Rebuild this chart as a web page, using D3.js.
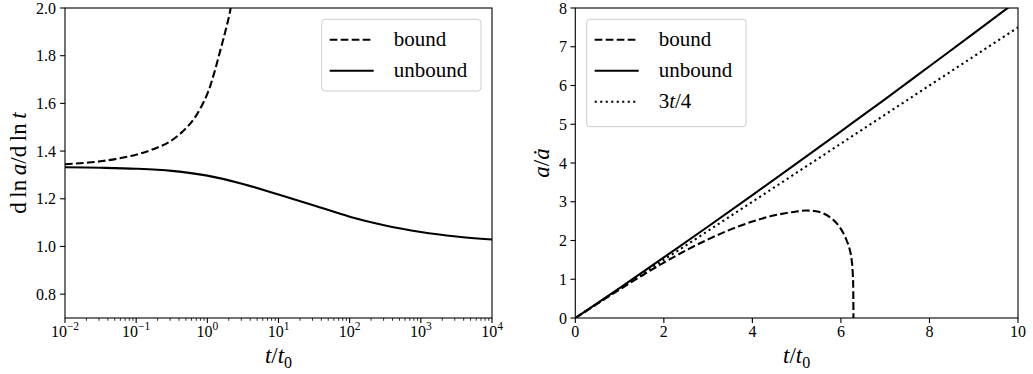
<!DOCTYPE html>
<html>
<head>
<meta charset="utf-8">
<script src="https://cdn.jsdelivr.net/npm/d3@7/dist/d3.min.js"></script>
<style>
  html, body { margin: 0; padding: 0; background: #fff; }
  svg { display: block; }
</style>
</head>
<body>
<svg id="chart" width="1033" height="374" font-family="Liberation Serif"></svg>
<script>
// ---- left panel: logarithmic derivative of the scale factor ----
const logTimes = [0.01, 0.0316, 0.1, 0.316, 1, 3.16, 10, 31.6, 100, 316, 1000, 3162, 10000];
const unboundSlope = [1.332, 1.330, 1.326, 1.317, 1.297, 1.262, 1.218, 1.172, 1.125, 1.088, 1.061, 1.042, 1.029];

const boundTimesLog = [0.01, 0.0316, 0.1, 0.2, 0.316, 0.5, 0.7, 1.0, 1.25, 1.5, 1.75, 2.0, 2.13];
const boundSlope = [1.345, 1.357, 1.385, 1.415, 1.445, 1.495, 1.55, 1.64, 1.728, 1.815, 1.89, 1.96, 2.0];

const leftYTicks = [0.8, 1.0, 1.2, 1.4, 1.6, 1.8, 2.0];
const leftXExponents = [-2, -1, 0, 1, 2, 3, 4];

// ---- right panel: Hubble time a / a-dot ----
const linTimes = [0, 0.5, 1, 2, 3, 4, 5, 6, 7, 8, 9, 10];
const unboundHubble = [0, 0.383, 0.772, 1.562, 2.361, 3.172, 3.99, 4.818, 5.649, 6.496, 7.344, 8.20];
const refLine = [0, 0.375, 0.75, 1.5, 2.25, 3.0, 3.75, 4.5, 5.25, 6.0, 6.75, 7.5];

const boundTimesLin = [0, 0.5, 1, 1.5, 2, 2.5, 3, 3.5, 4, 4.5, 5, 5.2, 5.4, 5.6, 5.8, 5.95, 6.05, 6.13, 6.2, 6.24, 6.265, 6.278, 6.283];
const boundHubble = [0, 0.37, 0.735, 1.09, 1.43, 1.745, 2.03, 2.28, 2.49, 2.65, 2.75, 2.775, 2.76, 2.70, 2.56, 2.38, 2.2, 2.0, 1.76, 1.52, 1.2, 0.8, 0];

const rightYTicks = [0, 1, 2, 3, 4, 5, 6, 7, 8];
const rightXTicks = [0, 2, 4, 6, 8, 10];

const FONT = "Liberation Serif";
const svg = d3.select("#chart");
const yTop = 8, yBot = 318;
const LW = 2.1;
const DASH = "7.7,3.3";
const DOT = "2.1,3.4";

const zip = (xs, ys) => xs.map((x, i) => [x, ys[i]]);
const txt = (g) => g.append("text").attr("font-family", FONT).attr("fill", "#000");

function frame(g, x0, x1) {
  g.append("rect")
    .attr("x", x0).attr("y", yTop)
    .attr("width", x1 - x0).attr("height", yBot - yTop)
    .attr("fill", "none").attr("stroke", "#000").attr("stroke-width", 1.1);
}

function legend(g, x, y, w, h, rows) {
  g.append("rect")
    .attr("x", x).attr("y", y).attr("width", w).attr("height", h)
    .attr("rx", 3.5).attr("fill", "#fff").attr("fill-opacity", 0.8)
    .attr("stroke", "#cccccc").attr("stroke-width", 1);
  rows.forEach((r, i) => {
    const ry = y + 20.5 + i * 31;
    g.append("line")
      .attr("x1", x + 8).attr("x2", x + 52)
      .attr("y1", ry).attr("y2", ry)
      .attr("stroke", "#000").attr("stroke-width", LW)
      .attr("stroke-dasharray", r.dash);
    const t = txt(g).attr("x", x + 72).attr("y", ry + 6.5).attr("font-size", 21);
    r.label(t);
  });
}

// ================= left panel =================
const L = svg.append("g");
const xL = d3.scaleLog().domain([1e-2, 1e4]).range([65, 492]);
const yL = d3.scaleLinear().domain([0.7, 2.0]).range([yBot, yTop]);

const clipL = svg.append("clipPath").attr("id", "clipL");
clipL.append("rect").attr("x", 65).attr("y", yTop).attr("width", 427).attr("height", yBot - yTop);

const lineL = d3.line().x(d => xL(d[0])).y(d => yL(d[1])).curve(d3.curveCatmullRom.alpha(0.5));
const curvesL = L.append("g").attr("clip-path", "url(#clipL)");
curvesL.append("path").attr("d", lineL(zip(boundTimesLog, boundSlope)))
  .attr("fill", "none").attr("stroke", "#000").attr("stroke-width", LW).attr("stroke-dasharray", DASH);
curvesL.append("path").attr("d", lineL(zip(logTimes, unboundSlope)))
  .attr("fill", "none").attr("stroke", "#000").attr("stroke-width", LW);

// x axis (log) ticks
const minorL = [];
leftXExponents.slice(0, -1).forEach(e => {
  for (let m = 2; m <= 9; m++) minorL.push(m * Math.pow(10, e));
});
L.selectAll(".minx").data(minorL).join("line")
  .attr("x1", d => xL(d)).attr("x2", d => xL(d))
  .attr("y1", yBot).attr("y2", yBot + 2.8)
  .attr("stroke", "#000").attr("stroke-width", 0.8);
L.selectAll(".majx").data(leftXExponents).join("line")
  .attr("x1", d => xL(Math.pow(10, d))).attr("x2", d => xL(Math.pow(10, d)))
  .attr("y1", yBot).attr("y2", yBot + 4.9)
  .attr("stroke", "#000").attr("stroke-width", 1.1);
leftXExponents.forEach(d => {
  const t = txt(L).attr("x", xL(Math.pow(10, d))).attr("y", 337)
    .attr("text-anchor", "middle").attr("font-size", 16);
  t.append("tspan").text("10");
  t.append("tspan").attr("dy", -7).attr("font-size", 11.5)
    .text(d < 0 ? "\u2212" + (-d) : String(d));
});

// y axis ticks
L.selectAll(".majy").data(leftYTicks).join("line")
  .attr("x1", 65).attr("x2", 65 - 4.9)
  .attr("y1", d => yL(d)).attr("y2", d => yL(d))
  .attr("stroke", "#000").attr("stroke-width", 1.1);
leftYTicks.forEach(d => {
  txt(L).attr("x", 56).attr("y", yL(d)).attr("dy", "0.35em")
    .attr("text-anchor", "end").attr("font-size", 16)
    .text(d.toFixed(1));
});

frame(L, 65, 492);

// axis titles
const xtL = txt(L).attr("x", 278.5).attr("y", 363).attr("text-anchor", "middle").attr("font-size", 23);
xtL.append("tspan").attr("font-style", "italic").text("t");
xtL.append("tspan").text("/");
xtL.append("tspan").attr("font-style", "italic").text("t");
xtL.append("tspan").attr("dy", 5).attr("font-size", 16).text("0");

const ytL = txt(L).attr("transform", "translate(26,163) rotate(-90)")
  .attr("text-anchor", "middle").attr("font-size", 23);
ytL.append("tspan").text("d\u2009ln\u2009");
ytL.append("tspan").attr("font-style", "italic").text("a");
ytL.append("tspan").text("/d\u2009ln\u2009");
ytL.append("tspan").attr("font-style", "italic").text("t");

legend(L, 321.7, 19.3, 159.3, 71.7, [
  { dash: DASH, label: t => t.text("bound") },
  { dash: null, label: t => t.text("unbound") }
]);

// ================= right panel =================
const R = svg.append("g");
const xR = d3.scaleLinear().domain([0, 10]).range([575.3, 1018]);
const yR = d3.scaleLinear().domain([0, 8]).range([yBot, yTop]);

const clipR = svg.append("clipPath").attr("id", "clipR");
clipR.append("rect").attr("x", 575.3).attr("y", yTop).attr("width", 1018 - 575.3).attr("height", yBot - yTop);

const lineR = d3.line().x(d => xR(d[0])).y(d => yR(d[1])).curve(d3.curveMonotoneX);
const curvesR = R.append("g").attr("clip-path", "url(#clipR)");
curvesR.append("path").attr("d", lineR(zip(linTimes, refLine)))
  .attr("fill", "none").attr("stroke", "#000").attr("stroke-width", LW).attr("stroke-dasharray", DOT);
curvesR.append("path").attr("d", lineR(zip(boundTimesLin, boundHubble)))
  .attr("fill", "none").attr("stroke", "#000").attr("stroke-width", LW).attr("stroke-dasharray", DASH);
curvesR.append("path").attr("d", lineR(zip(linTimes, unboundHubble)))
  .attr("fill", "none").attr("stroke", "#000").attr("stroke-width", LW);

R.selectAll(".tx").data(rightXTicks).join("line")
  .attr("x1", d => xR(d)).attr("x2", d => xR(d))
  .attr("y1", yBot).attr("y2", yBot + 4.9)
  .attr("stroke", "#000").attr("stroke-width", 1.1);
rightXTicks.forEach(d => {
  txt(R).attr("x", xR(d)).attr("y", 337)
    .attr("text-anchor", "middle").attr("font-size", 16)
    .text(d);
});
R.selectAll(".ty").data(rightYTicks).join("line")
  .attr("x1", 575.3).attr("x2", 575.3 - 4.9)
  .attr("y1", d => yR(d)).attr("y2", d => yR(d))
  .attr("stroke", "#000").attr("stroke-width", 1.1);
rightYTicks.forEach(d => {
  txt(R).attr("x", 567).attr("y", yR(d)).attr("dy", "0.35em")
    .attr("text-anchor", "end").attr("font-size", 16)
    .text(d);
});

frame(R, 575.3, 1018);

const xtR = txt(R).attr("x", 796.6).attr("y", 363).attr("text-anchor", "middle").attr("font-size", 23);
xtR.append("tspan").attr("font-style", "italic").text("t");
xtR.append("tspan").text("/");
xtR.append("tspan").attr("font-style", "italic").text("t");
xtR.append("tspan").attr("dy", 5).attr("font-size", 16).text("0");

const ytR = txt(R).attr("transform", "translate(549,163) rotate(-90)")
  .attr("text-anchor", "middle").attr("font-size", 23);
ytR.append("tspan").attr("font-style", "italic").text("a");
ytR.append("tspan").text("/");
ytR.append("tspan").attr("font-style", "italic").text("\u0227");

legend(R, 586.7, 19.3, 159.3, 107.4, [
  { dash: DASH, label: t => t.text("bound") },
  { dash: null, label: t => t.text("unbound") },
  { dash: DOT, label: t => {
      t.append("tspan").text("3");
      t.append("tspan").attr("font-style", "italic").text("t");
      t.append("tspan").text("/4");
    } }
]);
</script>
</body>
</html>
